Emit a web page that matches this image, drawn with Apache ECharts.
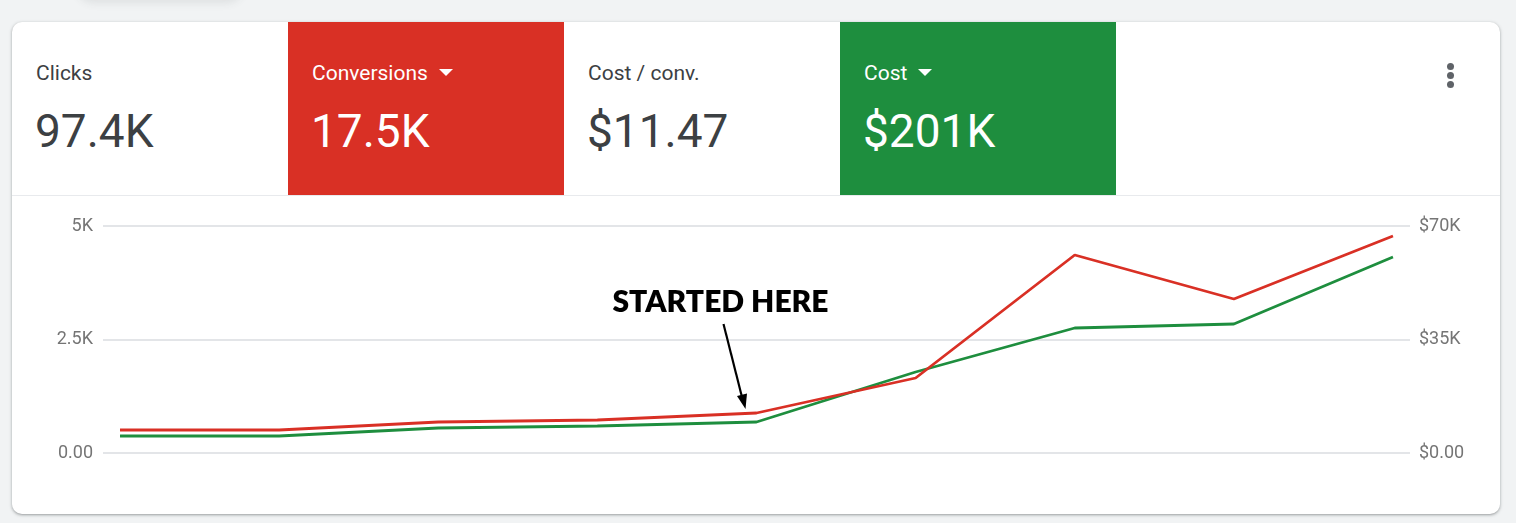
<!DOCTYPE html>
<html>
<head>
<meta charset="utf-8">
<script src="https://cdn.jsdelivr.net/npm/echarts@6/dist/echarts.min.js"></script>
<style>
  html, body { margin:0; padding:0; background:#f1f3f4; width:1516px; height:523px; overflow:hidden; font-family: Roboto, "Noto Sans", sans-serif; }
  #ghost { position:absolute; left:75px; top:-40px; width:170px; height:40px; border-radius:20px; background:#eceef0;
           box-shadow: 0 3px 8px rgba(60,64,67,0.10); }
  #card { position:absolute; left:12px; top:22px; width:1488px; height:492px; background:#fff; border-radius:10px;
          box-shadow: 0 1px 2px rgba(60,64,67,0.3), 0 1px 3px 1px rgba(60,64,67,0.15); overflow:hidden; }
  #header { position:absolute; left:0; top:0; width:1488px; height:173px; border-bottom:1px solid #e8eaed; }
  .tile { position:absolute; top:0; width:276px; height:173px; color:#3c4043; }
  .tile .lbl { position:absolute; left:24px; top:39px; font-size:21px; line-height:24px; white-space:nowrap; }
  .tile .val { position:absolute; left:23px; top:84px; font-size:46px; line-height:50px; white-space:nowrap; }
  .tile.red { background:#d93025; color:#fff; }
  .tile.green { background:#1e8e3e; color:#fff; }
  .tri { display:inline-block; width:0; height:0; border-left:7px solid transparent; border-right:7px solid transparent; border-top:7px solid #fff; margin-left:11px; vertical-align:middle; position:relative; top:-2px; }
  #dots { position:absolute; left:1435px; top:41px; width:8px; }
  #dots div { width:7px; height:7px; border-radius:50%; background:#5f6368; margin-bottom:2px; }
  #chart { position:absolute; left:12px; top:196px; width:1488px; height:318px; }
</style>
</head>
<body>
<div id="ghost"></div>
<div id="card">
  <div id="header"></div>
  <div id="dots"><div></div><div></div><div></div></div>
</div>
<div id="chart"></div>
<script>
// ---- data ----
const metricLabels = ["Clicks", "Conversions", "Cost / conv.", "Cost"];
const metricValues = ["97.4K", "17.5K", "$11.47", "$201K"];
const metricStyles = ["plain", "red", "plain", "green"];
const periods = [0, 1, 2, 3, 4, 5, 6, 7, 8];
const conversions = [507, 507, 683, 727, 881, 1652, 4361, 3392, 4780];
const cost = [5240, 5240, 7710, 8330, 9560, 24980, 38550, 39780, 60440];
const leftTicks = [0, 2500, 5000];
const rightTicks = [0, 35000, 70000];
const annotationText = "STARTED HERE";
const annotationIndex = 4;

// ---- header ----
const header = document.getElementById('header');
metricLabels.forEach((l, i) => {
  const t = document.createElement('div');
  t.className = 'tile' + (metricStyles[i] !== 'plain' ? ' ' + metricStyles[i] : '');
  t.style.left = (i * 276) + 'px';
  t.innerHTML = '<div class="lbl">' + l + (metricStyles[i] !== 'plain' ? '<span class="tri"></span>' : '') +
                '</div><div class="val">' + metricValues[i] + '</div>';
  header.appendChild(t);
});

// ---- chart ----
const chart = echarts.init(document.getElementById('chart'));
const fmtLeft = v => v === 0 ? '0.00' : (v / 1000) + 'K';
const fmtRight = v => v === 0 ? '$0.00' : '$' + (v / 1000) + 'K';
const axisLbl = { color:'#757575', fontSize:18, fontFamily:'Roboto' };
chart.setOption({
  animation: false,
  grid: { left: 91, right: 90, top: 30, bottom: 61 },
  xAxis: { type:'value', min: -0.107, max: 8.107, show: true,
           axisLine:{show:false}, axisTick:{show:false}, axisLabel:{show:false}, splitLine:{show:false} },
  yAxis: [
    { type:'value', min: leftTicks[0], max: leftTicks[2], interval: leftTicks[1],
      axisLabel: Object.assign({ formatter: fmtLeft, margin: 10 }, axisLbl),
      axisLine:{show:false}, axisTick:{show:false},
      splitLine:{ lineStyle:{ color:'#dadce0', width:1.5 } } },
    { type:'value', min: rightTicks[0], max: rightTicks[2], interval: rightTicks[1],
      axisLabel: Object.assign({ formatter: fmtRight, margin: 9 }, axisLbl),
      axisLine:{show:false}, axisTick:{show:false}, splitLine:{show:false} }
  ],
  series: [
    { name:'Cost', type:'line', yAxisIndex:1, data: periods.map((p, i) => [p, cost[i]]),
      symbol:'none', lineStyle:{ color:'#1e8e3e', width:2.8 } },
    { name:'Conversions', type:'line', yAxisIndex:0, data: periods.map((p, i) => [p, conversions[i]]),
      symbol:'none', lineStyle:{ color:'#d93025', width:2.8 } }
  ]
});

const p = chart.convertToPixel({ xAxisIndex:0, yAxisIndex:0 }, [periods[annotationIndex], conversions[annotationIndex]]);
chart.setOption({
  graphic: [
    { type:'text', x: p[0] - 36, y: p[1] - 111,
      style:{ text: annotationText, fill:'#000', font:'800 30px Lato, "DejaVu Sans", sans-serif', align:'center', verticalAlign:'middle' } },
    { type:'line', shape:{ x1: p[0] - 33, y1: p[1] - 89, x2: p[0] - 13, y2: p[1] - 10 },
      style:{ stroke:'#000', lineWidth:2.2 } },
    { type:'polygon', shape:{ points: [[p[0] - 11, p[1] - 4], [p[0] - 19.5, p[1] - 17], [p[0] - 9.5, p[1] - 19.5]] },
      style:{ fill:'#000' } }
  ]
});
</script>
</body>
</html>
